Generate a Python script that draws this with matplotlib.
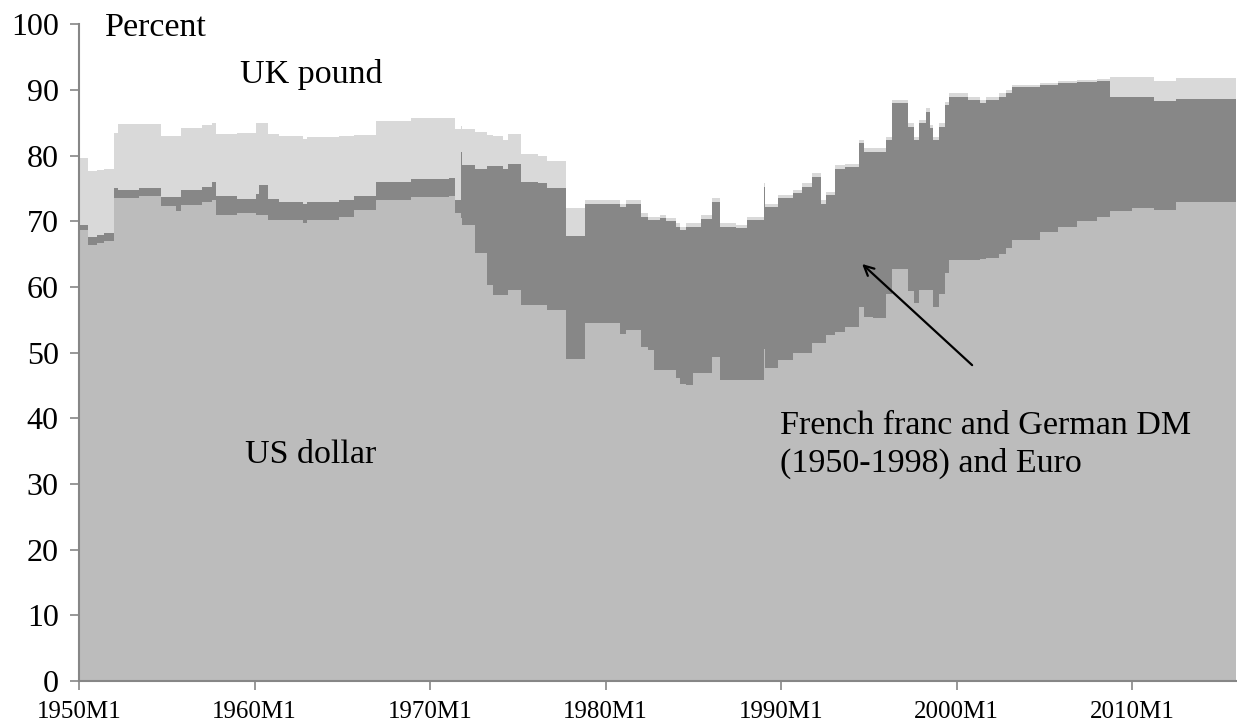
"""Currency composition of official foreign-exchange reserves, 1950-2015 (stacked area)."""

import matplotlib

matplotlib.use("Agg")
import matplotlib.pyplot as plt  # noqa: E402
import numpy as np  # noqa: E402
import pandas as pd  # noqa: E402

# Share of reserves (percent) at each month where a series changes;
# values hold until the next listed month.
months = [
    "1950-01", "1950-07", "1951-01", "1951-06", "1952-01", "1952-04", "1953-06",
    "1954-09", "1955-07", "1955-11", "1957-01", "1957-08", "1957-11", "1959-01",
    "1960-02", "1960-04", "1960-10", "1961-06", "1962-10", "1963-01", "1964-11",
    "1965-09", "1966-12", "1968-12", "1971-02", "1971-06", "1971-10", "1971-11",
    "1972-08", "1973-04", "1973-08", "1974-03", "1974-06", "1975-03", "1976-03",
    "1976-09", "1977-10", "1978-11", "1980-11", "1981-03", "1982-01", "1982-06",
    "1982-10", "1983-02", "1983-06", "1984-01", "1984-04", "1984-08", "1985-01",
    "1985-06", "1986-02", "1986-07", "1987-06", "1988-02", "1989-01", "1989-02",
    "1989-11", "1990-09", "1991-03", "1991-10", "1992-04", "1992-08", "1993-02",
    "1993-09", "1994-06", "1994-10", "1995-04", "1996-01", "1996-05", "1997-04",
    "1997-08", "1997-11", "1998-04", "1998-07", "1998-09", "1999-01", "1999-05",
    "1999-08", "2000-09", "2001-05", "2001-09", "2002-06", "2002-11", "2003-03",
    "2004-10", "2005-10", "2006-11", "2008-01", "2008-10", "2010-01", "2011-04",
    "2012-07", "2015-12",
]
usd = [
    68.7, 66.4, 66.7, 67.0, 73.5, 73.5, 73.8,
    72.3, 71.5, 72.5, 72.9, 73.2, 71.0, 71.3,
    71.0, 71.0, 70.2, 70.2, 69.8, 70.2, 70.7,
    71.7, 73.2, 73.7, 73.8, 71.2, 70.5, 69.5,
    65.1, 60.3, 58.8, 58.8, 59.5, 57.3, 57.3,
    56.5, 49.1, 54.5, 52.9, 53.5, 50.9, 50.4,
    47.4, 47.4, 47.4, 46.1, 45.3, 45.1, 46.9,
    46.9, 49.4, 45.8, 45.8, 45.8, 50.6, 47.6,
    48.9, 49.9, 49.9, 51.4, 51.4, 52.7, 53.2,
    53.9, 56.9, 55.5, 55.3, 59.0, 62.8, 59.4,
    57.5, 59.5, 59.5, 59.5, 57.0, 59.0, 62.1,
    64.1, 64.1, 64.3, 64.4, 65.0, 66.0, 67.1,
    68.4, 69.2, 70.0, 70.7, 71.5, 72.0, 71.7,
    73.0, 73.5,
]
frf_dem_eur = [
    0.7, 1.2, 1.2, 1.2, 1.5, 1.3, 1.2,
    1.4, 2.2, 2.2, 2.4, 2.8, 2.8, 2.1,
    3.2, 4.6, 3.2, 2.8, 2.9, 2.8, 2.5,
    2.1, 2.8, 2.8, 2.8, 2.0, 10.1, 9.1,
    12.8, 18.1, 19.6, 19.1, 19.3, 18.7, 18.5,
    18.5, 18.6, 18.2, 19.3, 19.2, 19.8, 19.8,
    22.8, 23.1, 22.6, 23.1, 23.4, 24.1, 22.3,
    23.5, 23.6, 23.4, 23.2, 24.4, 24.7, 24.6,
    24.6, 24.4, 25.4, 25.4, 21.3, 21.3, 24.8,
    24.3, 25.0, 25.1, 25.3, 23.4, 25.2, 25.0,
    24.9, 25.4, 27.2, 24.7, 25.4, 25.4, 25.6,
    24.9, 24.4, 23.7, 24.1, 24.0, 23.5, 23.4,
    22.4, 21.8, 21.2, 20.7, 17.5, 17.0, 16.6,
    15.7, 15.2,
]
gbp = [
    10.3, 10.1, 9.9, 9.8, 8.5, 10.0, 9.8,
    9.3, 9.3, 9.5, 9.3, 9.0, 9.5, 10.1,
    10.8, 9.4, 9.9, 10.0, 9.9, 9.9, 9.8,
    9.4, 9.2, 9.2, 9.1, 10.9, 3.9, 5.5,
    5.7, 4.7, 4.6, 4.5, 4.5, 4.3, 4.2,
    4.2, 4.3, 0.6, 0.5, 0.5, 0.5, 0.5,
    0.5, 0.5, 0.5, 0.5, 0.5, 0.5, 0.5,
    0.5, 0.5, 0.5, 0.5, 0.5, 0.5, 0.5,
    0.5, 0.5, 0.5, 0.5, 0.5, 0.5, 0.5,
    0.5, 0.5, 0.5, 0.5, 0.5, 0.5, 0.5,
    0.5, 0.5, 0.5, 0.5, 0.5, 0.5, 0.5,
    0.5, 0.5, 0.5, 0.5, 0.5, 0.5, 0.3,
    0.3, 0.3, 0.3, 0.3, 3.0, 3.0, 3.0,
    3.1, 3.1,
]

tick_years = [1950, 1960, 1970, 1980, 1990, 2000, 2010]

COLORS = {"usd": "#bcbcbc", "eur": "#878787", "gbp": "#d9d9d9"}
AXIS_GRAY = "#868686"
FONT = "Liberation Serif"

# month number counted from 1950M1
start = pd.Period("1950-01", freq="M")
x = np.array([(pd.Period(m, freq="M") - start).n for m in months])
layer_usd = np.array(usd)
layer_eur = layer_usd + np.array(frf_dem_eur)
layer_gbp = layer_eur + np.array(gbp)

fig = plt.figure(figsize=(12.37, 7.24), dpi=100)
ax = fig.add_axes([79 / 1237, 1 - 681 / 724, (1236 - 79) / 1237, (681 - 24.3) / 724])

ax.fill_between(x, 0, layer_usd, step="post", color=COLORS["usd"], lw=0)
ax.fill_between(x, layer_usd, layer_eur, step="post", color=COLORS["eur"], lw=0)
ax.fill_between(x, layer_eur, layer_gbp, step="post", color=COLORS["gbp"], lw=0)

ax.set_xlim(0, x[-1])
ax.set_ylim(0, 100)
ax.set_yticks(range(0, 101, 10))
ax.set_xticks([(y - 1950) * 12 for y in tick_years])
ax.set_xticklabels([f"{y}M1" for y in tick_years])

for side in ("top", "right"):
    ax.spines[side].set_visible(False)
for side in ("left", "bottom"):
    ax.spines[side].set_color(AXIS_GRAY)
    ax.spines[side].set_linewidth(1.5)
ax.tick_params(axis="y", direction="out", length=6.5, width=1.2, color=AXIS_GRAY,
               pad=8, labelsize=23)
ax.tick_params(axis="x", direction="out", length=6.5, width=1.2, color=AXIS_GRAY,
               pad=8, labelsize=18)
for label in ax.get_xticklabels() + ax.get_yticklabels():
    label.set_fontfamily(FONT)

text_kw = dict(fontfamily=FONT, fontsize=24.5, color="black")
ax.text(17.8, 99.5, "Percent", va="center", ha="left", **text_kw)
ax.text(110, 92.3, "UK pound", va="center", ha="left", **text_kw)
ax.text(113.5, 34.4, "US dollar", va="center", ha="left", **text_kw)
ax.text(479.3, 36.0, "French franc and German DM\n(1950-1998) and Euro",
        va="center", ha="left", linespacing=1.3, **text_kw)
ax.annotate("", xy=(535.4, 63.5), xytext=(610.6, 48.1),
            arrowprops=dict(arrowstyle="->,head_length=0.7,head_width=0.35",
                            color="black", lw=1.6, shrinkA=0, shrinkB=0))

fig.savefig("out.png", dpi=100)
